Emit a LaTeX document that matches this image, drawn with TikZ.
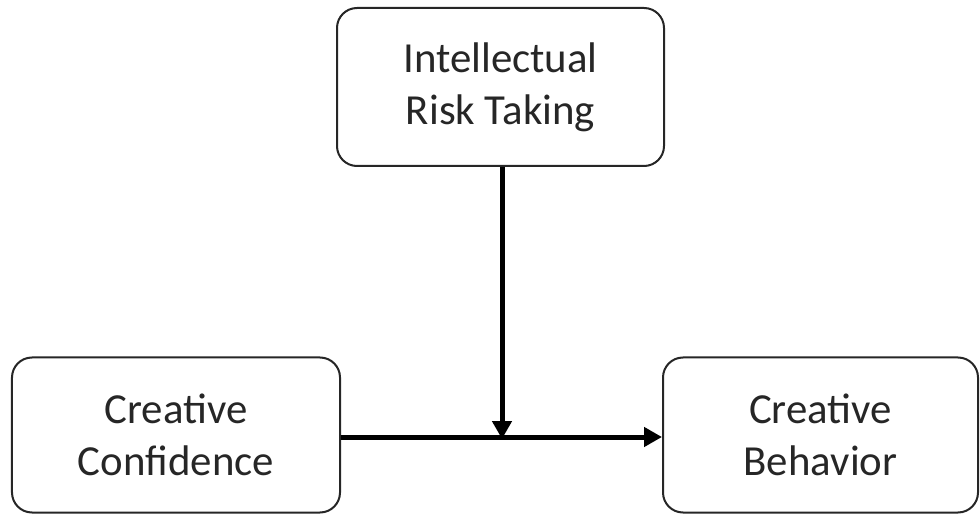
\documentclass[tikz,border=0pt]{standalone}
\usepackage{fontspec}
\setmainfont{Carlito}
\usetikzlibrary{arrows.meta}
\begin{document}
\begin{tikzpicture}[x=1bp,y=-1bp,
  box/.style={draw=black!85,line width=2bp,rounded corners=20bp,inner sep=0pt,
    font=\fontsize{43}{52}\selectfont,align=center,text=black!85},
  conn/.style={line width=5bp,-{Triangle[length=18bp,width=19bp]}}]
\useasboundingbox (0,0) rectangle (980,514);
\node[box,minimum width=327bp,minimum height=158bp] (irt) at (500.5,87) {Intellectual\\Risk Taking};
\node[box,minimum width=328bp,minimum height=155bp] (cc) at (176,435) {Creative\\Confidence};
\node[box,minimum width=315bp,minimum height=155bp] (cb) at (820.5,435) {Creative\\Behavior};
\coordinate (m) at (502,437);
\draw[conn] (cc.east |- m) -- (cb.west |- m);
\draw[conn] (irt.south -| m) -- ([yshift=-2bp]m);
\end{tikzpicture}
\end{document}
